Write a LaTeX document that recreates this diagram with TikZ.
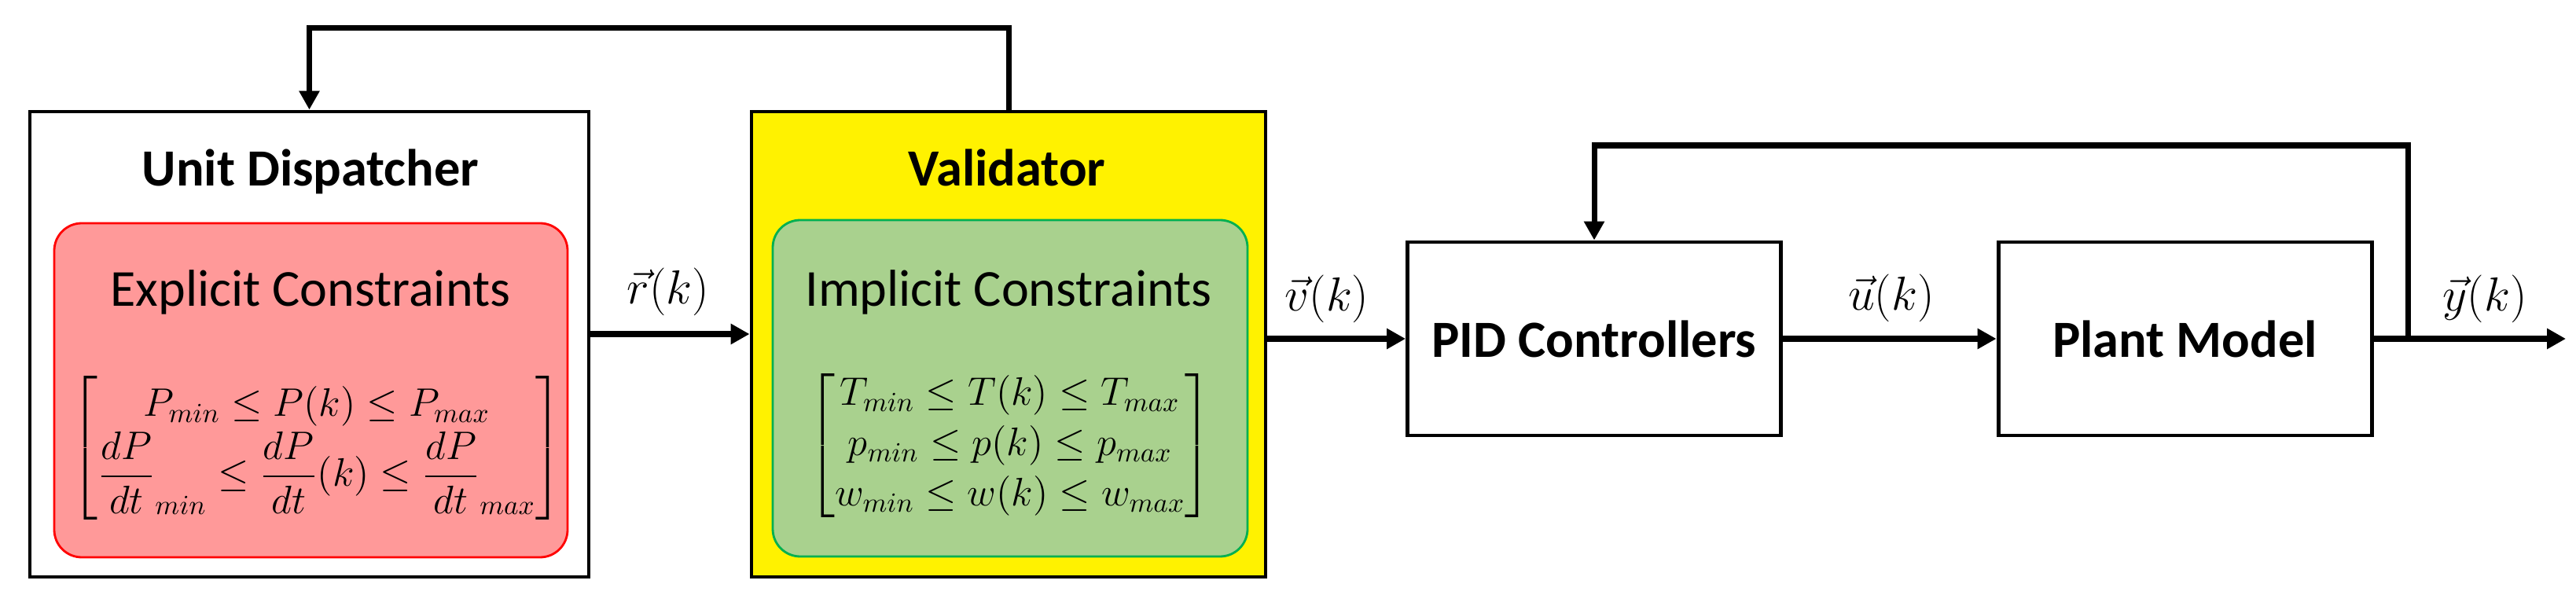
\documentclass[tikz,border=0pt]{standalone}
\usepackage{amsmath}
\usepackage[no-math]{fontspec}
\setmainfont{Carlito}
\usetikzlibrary{arrows.meta,positioning}
\definecolor{boxred}{RGB}{255,153,153}
\definecolor{boxgreen}{RGB}{169,209,142}
\definecolor{edgegreen}{RGB}{0,176,80}
\tikzset{
  blk/.style = {draw=black, line width=1.4pt, inner sep=0pt, align=center},
  blk_out/.style = {blk, minimum height=5.92cm},
  blk_in/.style = {rounded corners=0.35cm, line width=0.8pt, inner sep=0pt},
  blk_sys/.style = {blk, minimum width=4.75cm, minimum height=2.46cm,
    font=\fontsize{18.9}{22}\selectfont\bfseries},
  title/.style = {anchor=base, inner sep=1pt,
    font=\fontsize{18.9}{22}\selectfont\bfseries},
  subtitle/.style = {anchor=base, inner sep=1pt,
    font=\fontsize{18.8}{22}\selectfont},
  cons/.style = {inner sep=1pt, font=\fontsize{14.3}{18.2}\selectfont},
  sig/.style = {anchor=base, inner sep=1pt, font=\fontsize{18}{21}\selectfont}
}

\begin{document}
\begin{tikzpicture}[>={Triangle[length=2.4mm,width=2.5mm]},
  wire/.style={line width=2.2pt}, fb/.style={line width=2pt}]
\useasboundingbox (0,0) rectangle (32.77,-7.57);
\node [blk_out, minimum width=7.11cm] (disp) at (3.935,-4.38) {};
\node [blk_in, draw=red, fill=boxred, minimum width=6.53cm,
  minimum height=4.25cm] (expl) at (3.955,-4.965) {};
\node [title] (disp_t) at (3.95,-2.37) {Unit Dispatcher};
\node [subtitle] (expl_t) at (3.95,-3.90) {Explicit Constraints};
\node [cons] (expl_m) at (4.03,-5.70) {$\begin{bmatrix}
  P_{min} \le P(k) \le P_{max} \\
  \dfrac{dP}{dt}_{min} \le \dfrac{dP}{dt}(k) \le \dfrac{dP}{dt}_{max}
  \end{bmatrix}$};

\node [blk_out, fill=yellow, minimum width=6.54cm] (valid) at (12.83,-4.38) {};
\node [blk_in, draw=edgegreen, fill=boxgreen, minimum width=6.04cm,
  minimum height=4.28cm] (impl) at (12.85,-4.94) {};
\node [title] (valid_t) at (12.81,-2.37) {Validator};
\node [subtitle] (impl_t) at (12.83,-3.90) {Implicit Constraints};
\node [cons] (impl_m) at (12.85,-5.67) {$\begin{bmatrix}
  T_{min} \le T(k) \le T_{max} \\
  p_{min} \le p(k) \le p_{max} \\
  w_{min} \le w(k) \le w_{max}
  \end{bmatrix}$};

\node [blk_sys] (pid) at (20.28,-4.31) {PID Controllers};
\node [blk_sys] (plant) at (27.795,-4.31) {Plant Model};
\coordinate (branch) at (30.63,-4.31);
\coordinate (out) at (32.64,-4.31);

\draw [->, wire] ([yshift=1.3mm]disp.east) -- ([yshift=1.3mm]valid.west);
\draw [->, wire] (valid.east |- pid.west) -- (pid.west);
\draw [->, wire] (pid) -- (plant);
\draw [->, wire] (plant) -- (out);
\draw [->, fb] (valid.north) -- ++(0,1.04) -| (disp.north);
\draw [->, fb] (branch) -- ++(0,2.46) -| (pid.north);

\node [sig] (r_lab) at (8.50,-3.87) {$\vec{r}(k)$};
\node [sig] (v_lab) at (16.88,-3.96) {$\vec{v}(k)$};
\node [sig] (u_lab) at (24.06,-3.95) {$\vec{u}(k)$};
\node [sig] (y_lab) at (31.61,-3.96) {$\vec{y}(k)$};
\end{tikzpicture}
\end{document}
